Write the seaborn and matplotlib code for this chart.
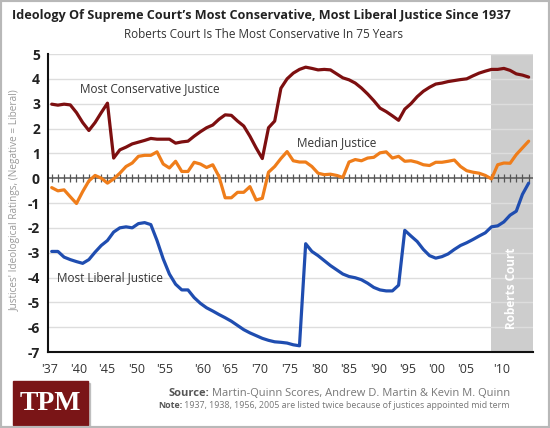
import numpy as np
import pandas as pd
import matplotlib
matplotlib.use("Agg")
import matplotlib.pyplot as plt
import seaborn as sns
from matplotlib.patches import Rectangle

# ---------------- data ----------------
years = [1937, 1937, 1938, 1938, 1939, 1940, 1941, 1942, 1943, 1944,
         1945, 1946, 1947, 1948, 1949, 1950, 1951, 1952, 1953, 1954,
         1955, 1956, 1956, 1957, 1958, 1959, 1960, 1961, 1962, 1963,
         1964, 1965, 1966, 1967, 1968, 1969, 1970, 1971, 1972, 1973,
         1974, 1975, 1976, 1977, 1978, 1979, 1980, 1981, 1982, 1983,
         1984, 1985, 1986, 1987, 1988, 1989, 1990, 1991, 1992, 1993,
         1994, 1995, 1996, 1997, 1998, 1999, 2000, 2001, 2002, 2003,
         2004, 2005, 2005, 2006, 2007, 2008, 2009, 2010]

conservative = [2.98, 2.94, 2.98, 2.95, 2.64, 2.24, 1.92, 2.24, 2.64, 3.02,
                0.81, 1.14, 1.25, 1.38, 1.45, 1.52, 1.60, 1.57, 1.57, 1.57,
                1.41, 1.46, 1.49, 1.69, 1.87, 2.03, 2.14, 2.37, 2.55, 2.53,
                2.30, 2.10, 1.69, 1.22, 0.79, 2.03, 2.30, 3.62, 4.00, 4.23,
                4.38, 4.47, 4.42, 4.36, 4.38, 4.36, 4.20, 4.04, 3.96, 3.83,
                3.63, 3.39, 3.12, 2.82, 2.68, 2.51, 2.33, 2.78, 3.00, 3.28,
                3.50, 3.66, 3.79, 3.83, 3.89, 3.93, 3.97, 4.00, 4.12, 4.23,
                4.31, 4.38, 4.38, 4.42, 4.34, 4.20, 4.15, 4.07]

median = [-0.38, -0.51, -0.47, -0.75, -1.02, -0.54, -0.11, 0.11, 0.00, -0.20,
          -0.03, 0.20, 0.47, 0.61, 0.88, 0.92, 0.92, 1.06, 0.57, 0.41,
          0.68, 0.27, 0.27, 0.64, 0.57, 0.43, 0.54, 0.07, -0.79, -0.79,
          -0.57, -0.57, -0.34, -0.88, -0.81, 0.24, 0.47, 0.79, 1.07, 0.70,
          0.65, 0.65, 0.47, 0.20, 0.14, 0.16, 0.11, 0.03, 0.65, 0.75,
          0.70, 0.81, 0.84, 1.02, 1.06, 0.81, 0.88, 0.68, 0.70, 0.64,
          0.54, 0.51, 0.64, 0.64, 0.68, 0.73, 0.47, 0.30, 0.24, 0.20,
          0.11, -0.03, 0.54, 0.61, 0.60, 0.95, 1.22, 1.49]

liberal = [-2.95, -2.95, -3.18, -3.28, -3.36, -3.43, -3.28, -2.98, -2.71, -2.51,
           -2.17, -2.00, -1.96, -2.00, -1.83, -1.79, -1.87, -2.51, -3.25, -3.86,
           -4.27, -4.50, -4.50, -4.81, -5.04, -5.22, -5.35, -5.49, -5.62, -5.76,
           -5.93, -6.10, -6.23, -6.34, -6.45, -6.53, -6.59, -6.61, -6.64, -6.71,
           -6.75, -2.64, -2.95, -3.12, -3.32, -3.52, -3.69, -3.86, -3.96, -4.01,
           -4.09, -4.23, -4.40, -4.50, -4.54, -4.54, -4.31, -2.10, -2.33, -2.55,
           -2.87, -3.12, -3.22, -3.16, -3.05, -2.87, -2.71, -2.60, -2.47, -2.33,
           -2.20, -1.96, -1.92, -1.76, -1.49, -1.33, -0.65, -0.20]

xtick_labels = ["'37", "'40", "'45", "'50", "'55", "'60", "'65", "'70",
                "'75", "'80", "'85", "'90", "'95", "'00", "'05", "'10"]
yticks = [5, 4, 3, 2, 1, 0, -1, -2, -3, -4, -5, -6, -7]

# ---------------- layout ----------------
xtick_pos = [-0.3, 4.3, 8.9, 13.7, 18.3, 24.4, 28.8, 33.6, 38.4, 43.2,
             47.9, 52.7, 57.4, 62.2, 66.9, 72.7]
XMIN, XMAX = -0.55, 77.7

sns.set_theme(style="white")
plt.rcParams['font.family'] = ['Open Sans', 'DejaVu Sans']

W, H = 550, 428
fig = plt.figure(figsize=(W / 100, H / 100), dpi=100)
fig.patch.set_facecolor("white")
ax = fig.add_axes([48.3 / W, 1 - 352 / H, (533 - 48.3) / W, (352 - 54) / H])

pos = np.arange(len(years))
df = pd.DataFrame({
    "pos": pos,
    "Most Conservative Justice": conservative,
    "Median Justice": median,
    "Most Liberal Justice": liberal,
}).melt(id_vars="pos", var_name="series", value_name="score")

palette = {
    "Most Conservative Justice": "#7d0f10",
    "Median Justice": "#ef7d1a",
    "Most Liberal Justice": "#1f4db0",
}

# Roberts Court shading
ax.axvspan(years.index(2005), XMAX, color="#cdcdcd", zorder=0, lw=0)

# grid lines
for yv in yticks:
    if yv != 0:
        ax.axhline(yv, color="#dddddd", lw=1.0, zorder=0.5)

# zero line with tick marks at each category
ax.axhline(0, color="#555555", lw=1.1, zorder=1)
ax.plot(pos, np.zeros(len(pos)), ls="none", marker="|", ms=6, mew=0.9,
        color="#555555", zorder=1)

sns.lineplot(data=df, x="pos", y="score", hue="series", palette=palette,
             linewidth=2.3, legend=False, ax=ax, zorder=3)

ax.set_xlim(XMIN, XMAX)
ax.set_ylim(-7, 5)
ax.set_xlabel("")
ax.set_ylabel("")
ax.set_yticks(yticks)
ax.set_yticklabels([str(v) for v in yticks], fontsize=10, fontweight="bold",
                   color="#222222")
ax.set_xticks(xtick_pos)
ax.set_xticklabels(xtick_labels, fontsize=9, color="#333333")
ax.tick_params(axis="both", length=0)
ax.tick_params(axis="y", pad=6)
ax.tick_params(axis="x", pad=8)
for s in ["top", "right"]:
    ax.spines[s].set_visible(False)
for s in ["left", "bottom"]:
    ax.spines[s].set_color("#111111")
    ax.spines[s].set_linewidth(1.5)

# annotations
ax.text(4.6, 3.62, "Most Conservative Justice", fontsize=8.5, color="#333333",
        ha="left", va="center", zorder=4)
ax.text(39.6, 1.42, "Median Justice", fontsize=8.5, color="#333333",
        ha="left", va="center", zorder=4)
ax.text(0.8, -4.02, "Most Liberal Justice", fontsize=8.5, color="#333333",
        ha="left", va="center", zorder=4)
ax.text(74.3, -4.45, "Roberts Court", fontsize=8.5, fontweight="bold",
        color="white", rotation=90, ha="center", va="center", zorder=4)

# titles
fig.text(261 / W, 1 - 15 / H,
         "Ideology Of Supreme Court\u2019s Most Conservative, Most Liberal Justice Since 1937",
         ha="center", va="center", fontsize=9.1, fontweight="bold", color="#222222")
fig.text(263 / W, 1 - 34 / H, "Roberts Court Is The Most Conservative In 75 Years",
         ha="center", va="center", fontsize=8.5, color="#333333")
fig.text(15 / W, 1 - 200 / H, "Justices' Ideological Ratings, (Negative = Liberal)",
         rotation=90, ha="center", va="center", fontsize=7.2, color="#999999")

# source and note
renderer = fig.canvas.get_renderer()
t1 = fig.text(510 / W, 1 - 393 / H,
              " Martin-Quinn Scores, Andrew D. Martin & Kevin M. Quinn",
              ha="right", va="center", fontsize=8.0, color="#777777")
bb = t1.get_window_extent(renderer)
fig.text(bb.x0 / fig.bbox.width, 1 - 393 / H, "Source:", ha="right", va="center",
         fontsize=8.0, fontweight="bold", color="#555555")
t2 = fig.text(510 / W, 1 - 405 / H,
              " 1937, 1938, 1956, 2005 are listed twice because of justices appointed mid term",
              ha="right", va="center", fontsize=6.4, color="#777777")
bb2 = t2.get_window_extent(renderer)
fig.text(bb2.x0 / fig.bbox.width, 1 - 405 / H, "Note:", ha="right", va="center",
         fontsize=6.4, fontweight="bold", color="#555555")

# TPM logo
fig.patches.append(Rectangle((15 / W, 1 - 427 / H), 75 / W, 44 / H,
                             transform=fig.transFigure, color="#999999",
                             alpha=0.5, zorder=1))
fig.patches.append(Rectangle((13 / W, 1 - 425 / H), 75 / W, 44 / H,
                             transform=fig.transFigure, color="#7a1517", zorder=2))
fig.text(50.5 / W, 1 - 403 / H, "TPM", ha="center", va="center", fontsize=20,
         fontweight="bold", color="white", family=["Liberation Serif", "DejaVu Serif"],
         zorder=3)

# outer border
fig.patches.append(Rectangle((0, 0), 1, 1, transform=fig.transFigure, fill=False,
                             edgecolor="#b8b8b8", lw=3, zorder=10))

fig.savefig("out.png", dpi=100)
